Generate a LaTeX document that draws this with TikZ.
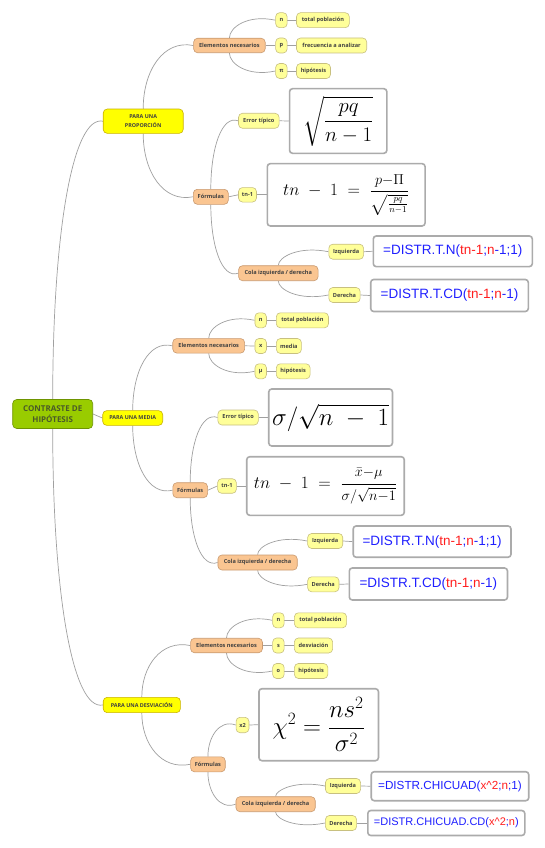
\documentclass[tikz,border=0pt]{standalone}
\usepackage{fontspec}
\usepackage{amsmath}
\setmainfont{Open Sans}
\newfontfamily\boxfont{Liberation Sans}
\usetikzlibrary{calc,backgrounds}
\definecolor{rootfill}{HTML}{99CC00}
\definecolor{rootdraw}{HTML}{6E9400}
\definecolor{roottext}{HTML}{4A5A28}
\definecolor{lonefill}{HTML}{FFFF00}
\definecolor{lonedraw}{HTML}{C9B200}
\definecolor{ltwofill}{HTML}{FAC591}
\definecolor{ltwodraw}{HTML}{C99A70}
\definecolor{leaffill}{HTML}{FFFF99}
\definecolor{leafdraw}{HTML}{C8C080}
\definecolor{txt}{HTML}{404040}
\definecolor{linec}{HTML}{A0A0A0}
\definecolor{fblue}{HTML}{1F1FFF}
\definecolor{fred}{HTML}{FF1F1F}
\definecolor{boxdraw}{HTML}{ABABAB}
\newcommand\nd[7]{\node[#1, minimum width=#5pt, minimum height=#6pt] (#2) at (#3,#4) {#7};}
\newcommand\cv[4]{\draw[conn] let \p1=(#1.#3), \p2=(#2.west), \n1={abs(\y2-\y1)} in (\p1) .. controls ({\x1},{\y2-(#4)*0.4*\n1}) and ({\x1+0.4*(\x2-\x1)},{\y2+(#4)*6pt}) .. (\p2);}
\newcommand\st[2]{\draw[conn] (#1.east) -- (#2.west);}
\newcommand\rd[1]{\textcolor{fred}{#1}}
\tikzset{
  base/.style={rounded corners=4pt, inner sep=0pt, align=center, font=\bfseries\fontsize{5.6}{7}\selectfont, text=txt, line width=0.6pt},
  rootn/.style={base, fill=rootfill, draw=rootdraw, font=\bfseries\fontsize{8}{11.5}\selectfont, text=roottext},
  lone/.style={base, fill=lonefill, draw=lonedraw, font=\bfseries\fontsize{5.4}{9}\selectfont},
  ltwo/.style={base, fill=ltwofill, draw=ltwodraw},
  leaf/.style={base, fill=leaffill, draw=leafdraw},
  fbox/.style={draw=boxdraw, line width=1.6pt, fill=white, rounded corners=3pt, inner sep=0pt},
  conn/.style={draw=linec, line width=0.7pt},
  ftext/.style={fbox, font=\boxfont\fontsize{13.5}{16}\selectfont, text=fblue},
}
\begin{document}
\begin{tikzpicture}[x=1pt,y=-1pt]
\useasboundingbox (0,0) rectangle (545,848);
% root and level 1
\nd{rootn}{root}{52.7}{414}{80}{29}{CONTRASTE DE\\HIPÓTESIS}
\nd{lone}{pa}{143.2}{121.2}{80}{24.3}{PARA UNA\\PROPORCIÓN}
\nd{lone}{pb}{132.7}{418}{60}{14.7}{PARA UNA MEDIA}
\nd{lone}{pc}{141.8}{705}{77.2}{15.3}{PARA UNA DESVIACIÓN}
% branch 1
\nd{ltwo}{ea}{229.4}{45.5}{71.6}{14.5}{Elementos necesarios}
\nd{leaf}{an}{281.4}{20.2}{11.5}{15}{n}
\nd{leaf}{at}{322.9}{20.2}{52.8}{15}{total población}
\nd{leaf}{ap}{281.4}{45.5}{11.5}{15}{p}
\nd{leaf}{af}{331.6}{45.5}{70.2}{15}{frecuencia a analizar}
\nd{leaf}{api}{281.4}{71}{11.5}{15}{π}
\nd{leaf}{ah}{313.5}{71}{34}{15}{hipótesis}
\nd{ltwo}{fa}{210.8}{196.8}{35}{15}{Fórmulas}
\nd{leaf}{eta}{258.8}{120.8}{40.6}{15}{Error típico}
\node[fbox, minimum width=97.3pt, minimum height=64.6pt] (ba) at (338.2,121) {\fontsize{22}{26}\selectfont$\displaystyle\sqrt{\frac{pq}{n-1}}$};
\nd{leaf}{ta}{247.5}{194.8}{18}{14.5}{tn-1}
\node[fbox, minimum width=157.8pt, minimum height=62.3pt] (bb) at (346.2,194.8) {\fontsize{19}{24}\selectfont$tn\;-\;1\;=\;\dfrac{\scriptstyle p-\Pi}{\sqrt{\scriptstyle\frac{pq}{n-1}}}$};
\nd{ltwo}{ca}{278.3}{273.2}{79.5}{15}{Cola izquierda / derecha}
\nd{leaf}{ia}{346.2}{251.7}{34.8}{15}{Izquierda}
\node[ftext, minimum width=159pt, minimum height=30.7pt] (bia) at (452.8,251.3) {=DISTR.T.N(\rd{tn-1};\rd{n}-1;1)};
\nd{leaf}{da}{344.5}{295}{31.3}{15}{Derecha}
\node[ftext, minimum width=157.6pt, minimum height=32pt] (bda) at (449.5,295.5) {=DISTR.T.CD(\rd{tn-1};\rd{n}-1)};
% branch 2
\nd{ltwo}{eb}{208.7}{345.8}{71.9}{14.5}{Elementos necesarios}
\nd{leaf}{bn}{260.7}{320.3}{11.5}{15}{n}
\nd{leaf}{bt}{302.4}{320.3}{52.2}{15}{total población}
\nd{leaf}{bx}{260.7}{346}{11.5}{15}{x}
\nd{leaf}{bm}{288.9}{346}{25}{15}{media}
\nd{leaf}{bmu}{260.7}{371.3}{11.5}{15}{µ}
\nd{leaf}{bh}{293.2}{371.3}{33.8}{15}{hipótesis}
\nd{leaf}{etb}{238.1}{417.5}{40.4}{15}{Error típico}
\node[fbox, minimum width=123.7pt, minimum height=57pt] (bc) at (330.6,417.5) {\fontsize{24}{28}\selectfont$\sigma/\sqrt{n\;-\;1}$};
\nd{ltwo}{fb}{190.2}{490.2}{34.7}{15}{Fórmulas}
\nd{leaf}{tb}{227}{486}{18.8}{14.5}{tn-1}
\node[fbox, minimum width=157.5pt, minimum height=58.6pt] (bdd) at (325.5,486) {\fontsize{19}{24}\selectfont$tn\;-\;1\;=\;\dfrac{\scriptstyle\bar{x}-\mu}{\scriptstyle\sigma/\sqrt{n-1}}$};
\nd{ltwo}{cb}{257.6}{562.5}{79.3}{15}{Cola izquierda / derecha}
\nd{leaf}{ib}{325.2}{541}{35.1}{15}{Izquierda}
\node[ftext, minimum width=157.8pt, minimum height=31.3pt] (bib) at (432.1,541.6) {=DISTR.T.N(\rd{tn-1};\rd{n}-1;1)};
\nd{leaf}{db}{323.3}{584.3}{31.3}{15}{Derecha}
\node[ftext, minimum width=158.2pt, minimum height=32pt] (bdb) at (428.4,584) {=DISTR.T.CD(\rd{tn-1};\rd{n}-1)};
% branch 3
\nd{ltwo}{ec}{226.5}{645.5}{71.9}{14.5}{Elementos necesarios}
\nd{leaf}{cn}{278.4}{620.3}{11.5}{15}{n}
\nd{leaf}{ct}{320.5}{620.3}{52.2}{15}{total población}
\nd{leaf}{cs}{278.4}{645.5}{11.5}{15}{s}
\nd{leaf}{cd}{313.5}{645.5}{38.3}{15}{desviación}
\nd{leaf}{co}{278.4}{671}{11.5}{15}{o}
\nd{leaf}{ch}{311.1}{671}{33.4}{15}{hipótesis}
\nd{ltwo}{fc}{207.9}{764.3}{34.7}{15}{Fórmulas}
\nd{leaf}{xc}{242.5}{725}{12.9}{15.4}{x2}
\node[fbox, minimum width=119.5pt, minimum height=72pt] (be) at (318.7,724.7) {\fontsize{24}{28}\selectfont$\displaystyle\chi^{2}=\frac{ns^{2}}{\sigma^{2}}$};
\nd{ltwo}{cc}{275.6}{804.2}{79.3}{15}{Cola izquierda / derecha}
\nd{leaf}{ic}{343}{786}{35.1}{15}{Izquierda}
\node[ftext, minimum width=157.5pt, minimum height=29pt, font=\boxfont\fontsize{11.7}{14}\selectfont] (bic) at (450,786.2) {=DISTR.CHICUAD(\rd{x\textasciicircum 2};\rd{n};1)};
\nd{leaf}{dc}{341}{823}{31.2}{15}{Derecha}
\node[ftext, minimum width=157pt, minimum height=25pt, font=\boxfont\fontsize{11}{13}\selectfont] (bdc) at (446.3,823) {=DISTR.CHICUAD.CD(\rd{x\textasciicircum 2};\rd{n})};
\begin{pgfonlayer}{background}
\fill[white] (0,0) rectangle (545,848);
% root
\cv{root}{pa}{north}{1}
\st{root}{pb}
\cv{root}{pc}{south}{-1}
% level 1
\cv{pa}{ea}{north}{1}
\cv{pa}{fa}{south}{-1}
\cv{pb}{eb}{north}{1}
\cv{pb}{fb}{south}{-1}
\cv{pc}{ec}{north}{1}
\cv{pc}{fc}{south}{-1}
% elementos
\cv{ea}{an}{north}{1}\st{ea}{ap}\cv{ea}{api}{south}{-1}
\cv{eb}{bn}{north}{1}\st{eb}{bx}\cv{eb}{bmu}{south}{-1}
\cv{ec}{cn}{north}{1}\st{ec}{cs}\cv{ec}{co}{south}{-1}
\st{an}{at}\st{ap}{af}\st{api}{ah}
\st{bn}{bt}\st{bx}{bm}\st{bmu}{bh}
\st{cn}{ct}\st{cs}{cd}\st{co}{ch}
% formulas
\cv{fa}{eta}{north}{1}\st{fa}{ta}\cv{fa}{ca}{south}{-1}
\cv{fb}{etb}{north}{1}\st{fb}{tb}\cv{fb}{cb}{south}{-1}
\cv{fc}{xc}{north}{1}\cv{fc}{cc}{south}{-1}
\st{eta}{ba}\st{ta}{bb}\st{etb}{bc}\st{tb}{bdd}\st{xc}{be}
% colas
\cv{ca}{ia}{north}{1}\cv{ca}{da}{south}{-1}
\cv{cb}{ib}{north}{1}\cv{cb}{db}{south}{-1}
\cv{cc}{ic}{north}{1}\cv{cc}{dc}{south}{-1}
\st{ia}{bia}\st{da}{bda}\st{ib}{bib}\st{db}{bdb}\st{ic}{bic}\st{dc}{bdc}
\end{pgfonlayer}
\end{tikzpicture}
\end{document}
